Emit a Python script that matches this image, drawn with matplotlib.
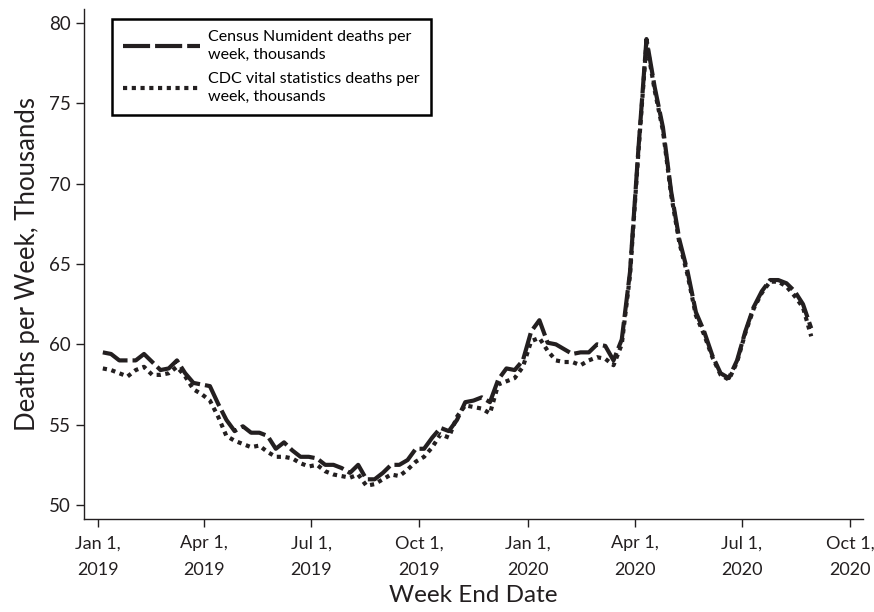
import matplotlib.pyplot as plt
import pandas as pd

plt.rcParams['font.family'] = ['Lato', 'DejaVu Sans']

# weekly data, week ending Saturday
week_end = pd.date_range("2019-01-05", periods=87, freq="7D")

census = [59.5, 59.4, 59.0, 59.0, 59.0, 59.4, 58.9, 58.4, 58.5, 59.0,
          58.2, 57.6, 57.5, 57.4, 56.3, 55.3, 54.6, 54.9, 54.5, 54.5,
          54.3, 53.5, 53.9, 53.4, 53.0, 53.0, 52.9, 52.5, 52.5, 52.3,
          52.0, 52.5, 51.6, 51.6, 52.0, 52.5, 52.5, 52.8, 53.5, 53.5,
          54.2, 54.8, 54.6, 55.3, 56.4, 56.5, 56.7, 56.4, 57.8, 58.5,
          58.4, 59.0, 60.8, 61.5, 60.1, 60.0, 59.7, 59.4, 59.5, 59.5,
          60.0, 59.9, 59.0, 60.3, 64.5, 72.0, 79.0, 76.0, 73.5, 69.5,
          66.5, 64.5, 62.0, 60.8, 59.3, 58.2, 57.9, 59.0, 60.8, 62.3,
          63.3, 64.0, 64.0, 63.8, 63.3, 62.5, 61.0]

cdc = [58.5, 58.4, 58.2, 58.0, 58.4, 58.6, 58.1, 58.1, 58.2, 58.6,
       58.0, 57.2, 56.9, 56.5, 55.5, 54.3, 54.0, 53.8, 53.6, 53.7,
       53.3, 53.0, 53.0, 52.9, 52.6, 52.4, 52.5, 52.1, 51.9, 51.8,
       51.7, 51.9, 51.2, 51.3, 51.6, 51.9, 51.8, 52.2, 52.7, 53.0,
       53.6, 54.4, 54.2, 55.5, 56.2, 56.1, 56.0, 55.7, 57.5, 57.7,
       57.9, 58.6, 60.2, 60.4, 59.6, 59.0, 58.9, 58.9, 58.7, 59.0,
       59.2, 59.1, 58.7, 60.0, 64.3, 71.8, 78.8, 75.8, 73.3, 69.3,
       66.3, 64.3, 61.8, 60.6, 59.2, 58.1, 57.8, 58.9, 60.7, 62.2,
       63.2, 63.9, 63.9, 63.6, 63.0, 62.3, 60.5]

tick_dates = pd.to_datetime(["2019-01-01", "2019-04-01", "2019-07-01", "2019-10-01",
                             "2020-01-01", "2020-04-01", "2020-07-01", "2020-10-01"])
tick_labels = ["Jan 1,\n2019", "Apr 1,\n2019", "Jul 1,\n2019", "Oct 1,\n2019",
               "Jan 1,\n2020", "Apr 1,\n2020", "Jul 1,\n2020", "Oct 1,\n2020"]

ink = '#231f20'

fig = plt.figure(figsize=(8.74, 6.12), dpi=100)
ax = fig.add_axes([0.0961, 0.1525, 0.8913, 0.832])

l_cdc, = ax.plot(week_end, cdc, color=ink, lw=3, linestyle=(0, (1, 1.1)),
                 dash_capstyle='butt',
                 label="CDC vital statistics deaths per\nweek, thousands")
l_cen, = ax.plot(week_end, census, color=ink, lw=3, linestyle=(0, (6.5, 1.2)),
                 dash_capstyle='butt',
                 label="Census Numident deaths per\nweek, thousands")

ax.set_xlim(pd.Timestamp("2018-12-20"), pd.Timestamp("2020-10-12"))
ax.set_ylim(49.15, 80.84)
ax.set_yticks([50, 55, 60, 65, 70, 75, 80])
ax.set_xticks(tick_dates)
ax.set_xticklabels(tick_labels, linespacing=1.85)

for s in ['top', 'right']:
    ax.spines[s].set_visible(False)
for s in ['left', 'bottom']:
    ax.spines[s].set_color(ink)
    ax.spines[s].set_linewidth(1)

ax.tick_params(axis='both', colors=ink, labelsize=13.5, length=6, width=1)
ax.tick_params(axis='x', labelsize=13, pad=6)

ax.set_ylabel("Deaths per Week, Thousands", fontsize=18.5, color=ink, labelpad=6)
ax.set_xlabel("Week End Date", fontsize=17.5, color=ink, labelpad=5)

leg = ax.legend(handles=[l_cen, l_cdc], loc='upper left',
                bbox_to_anchor=(0.036, 0.981), borderaxespad=0, fontsize=11.5,
                frameon=True, fancybox=False, framealpha=1,
                edgecolor='black', handlelength=4.8, handletextpad=0.5,
                borderpad=0.7, labelspacing=0.6)
leg.get_frame().set_linewidth(1.8)
for t in leg.get_texts():
    t.set_linespacing(1.35)

fig.savefig("out.png", dpi=100)
